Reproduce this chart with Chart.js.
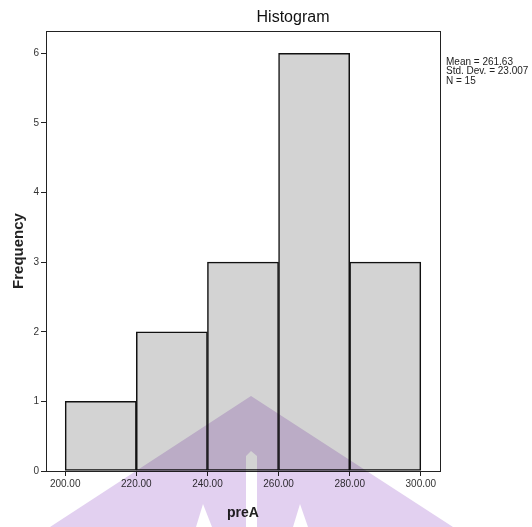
<!DOCTYPE html>
<html><head><meta charset="utf-8">
<script src="https://cdn.jsdelivr.net/npm/chart.js@4"></script>
<style>html,body{margin:0;padding:0;background:#fff}#wrap{width:532px;height:527px}</style>
</head><body><div id="wrap"><canvas id="c" width="532" height="527"></canvas></div>
<script>
const binStarts = [200, 220, 240, 260, 280];
const binWidth = 20;
const frequencies = [1, 2, 3, 6, 3];
const xTicks = [200, 220, 240, 260, 280, 300];
const yTicks = [0, 1, 2, 3, 4, 5, 6];
const statsLines = ['Mean = 261.63', 'Std. Dev. = 23.007', 'N = 15'];
const chartTitle = 'Histogram';
const xLabel = 'preA';
const yLabel = 'Frequency';

const FONT = "'Liberation Sans', Arial, sans-serif";

const points = binStarts.map((s, i) => ({ x: s + binWidth / 2, y: frequencies[i] }));

const deco = {
  id: 'deco',
  beforeDraw(chart) {
    const ctx = chart.ctx;
    ctx.save();
    ctx.fillStyle = '#fff';
    ctx.fillRect(0, 0, chart.width, chart.height);
    ctx.restore();
  },
  afterDraw(chart) {
    const ctx = chart.ctx;
    const a = chart.chartArea;
    ctx.save();
    // frame
    ctx.strokeStyle = '#222';
    ctx.lineWidth = 1;
    ctx.strokeRect(Math.round(a.left) + 0.5, Math.round(a.top) + 0.5,
      Math.round(a.right - a.left), Math.round(a.bottom - a.top));
    // title
    ctx.fillStyle = '#111';
    ctx.font = '16px ' + FONT;
    ctx.textAlign = 'center';
    ctx.textBaseline = 'middle';
    ctx.fillText(chartTitle, 293, 18);
    // stats
    ctx.font = '10px ' + FONT;
    ctx.textAlign = 'left';
    ctx.fillStyle = '#222';
    statsLines.forEach((t, i) => ctx.fillText(t, 446, 62 + i * 9.5));
    // faint watermark overlay
    ctx.globalCompositeOperation = 'multiply';
    ctx.fillStyle = 'rgb(226,208,240)';
    ctx.beginPath();
    ctx.moveTo(251, 396); ctx.lineTo(453, 527); ctx.lineTo(50, 527); ctx.closePath();
    ctx.moveTo(246, 527); ctx.lineTo(246, 456); ctx.lineTo(251, 451); ctx.lineTo(257, 456); ctx.lineTo(257, 527); ctx.closePath();
    ctx.moveTo(203, 504); ctx.lineTo(212, 527); ctx.lineTo(196, 527); ctx.closePath();
    ctx.moveTo(300, 504); ctx.lineTo(308, 527); ctx.lineTo(293, 527); ctx.closePath();
    ctx.fill('evenodd');
    ctx.restore();
  }
};

new Chart(document.getElementById('c'), {
  type: 'bar',
  data: {
    datasets: [{
      data: points,
      backgroundColor: '#d3d3d3',
      borderColor: '#111',
      borderWidth: 1.5,
      borderSkipped: false,
      barPercentage: 1,
      categoryPercentage: 1,
      grouped: false
    }]
  },
  options: {
    responsive: false,
    animation: false,
    devicePixelRatio: 1,
    layout: { padding: { top: 31, right: 92, left: 0, bottom: 0 } },
    plugins: { legend: { display: false }, title: { display: false }, tooltip: { enabled: false } },
    scales: {
      x: {
        type: 'linear',
        offset: false,
        min: 194.6,
        max: 305.4,
        afterBuildTicks: s => { s.ticks = xTicks.map(v => ({ value: v })); },
        afterFit: s => { s.height = 56; },
        grid: { display: true, offset: false, drawOnChartArea: false, drawTicks: true, tickLength: 5, color: '#222' },
        border: { display: true, color: '#222', width: 1 },
        ticks: { autoSkip: false, maxRotation: 0, padding: 2, color: '#333', font: { family: FONT, size: 10 },
          callback: v => Number(v).toFixed(2) },
        title: { display: true, text: xLabel, color: '#222', font: { family: FONT, size: 14, weight: 'bold' },
          padding: { top: 0, bottom: 5 } }
      },
      y: {
        min: 0,
        max: 6.32,
        afterBuildTicks: s => { s.ticks = yTicks.map(v => ({ value: v })); },
        afterFit: s => { s.width = 46; },
        grid: { display: true, drawOnChartArea: false, drawTicks: true, tickLength: 5, color: '#222' },
        border: { display: true, color: '#222', width: 1 },
        ticks: { padding: 2, color: '#333', font: { family: FONT, size: 10 } },
        title: { display: true, text: yLabel, color: '#222', font: { family: FONT, size: 15, weight: 'bold' },
          padding: { top: 10, bottom: 0 } }
      }
    }
  },
  plugins: [deco]
});
</script>
</body></html>
